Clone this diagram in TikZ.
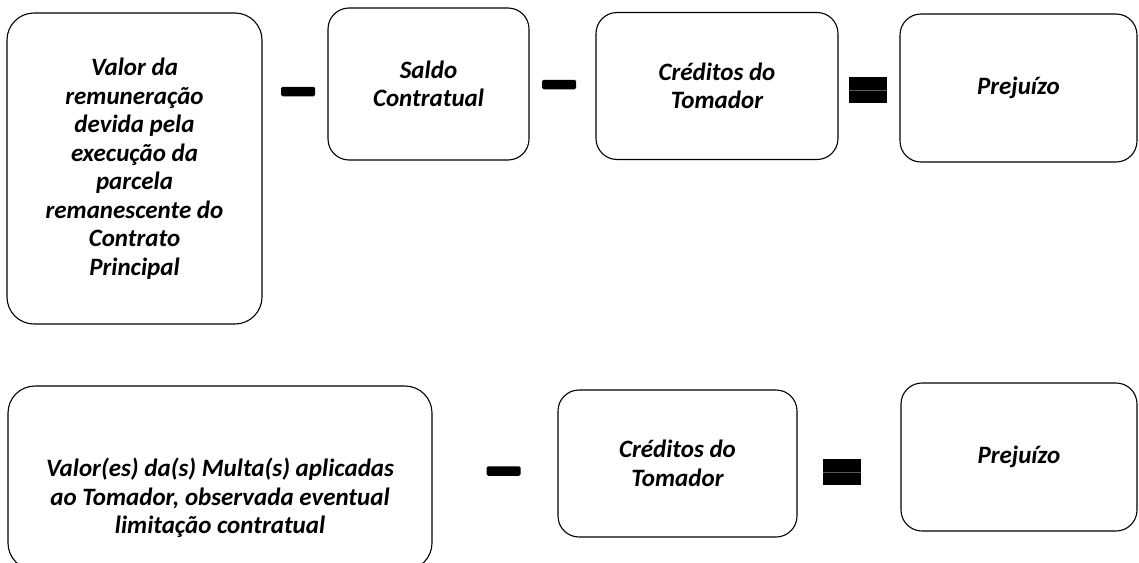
\documentclass[tikz,border=0pt]{standalone}
\usepackage{fontspec}
\setmainfont{Carlito}
\begin{document}
\begin{tikzpicture}[x=1pt,y=-1pt,
  lbl/.style={align=center, inner sep=0pt, font=\fontsize{25}{28.5}\selectfont\bfseries\itshape},
  box/.style={lbl, draw=black, line width=1.1pt, rounded corners=21pt},
  bigbox/.style={box, rounded corners=27pt},
  minusbar/.style={fill=black, rounded corners=1.5pt, minimum width=34pt, minimum height=9.5pt, inner sep=0pt},
  eqbox/.style={fill=black, minimum width=38pt, minimum height=26pt, inner sep=0pt},
  eqgap/.style={draw=black!65, line width=0.6pt}]
\useasboundingbox (0,0) rectangle (1139,562);
% top row
\node[bigbox, minimum width=255pt, minimum height=311pt] (b1) at (134.5,168.5)
  {Valor da\\remuneração\\devida pela\\execução da\\parcela\\remanescente do\\Contrato\\Principal};
\node[minusbar] (m1) at (298,91.5) {};
\node[box, minimum width=201pt, minimum height=152pt] (b2) at (428.5,84) {Saldo\\Contratual};
\node[minusbar] (m2) at (559,84.5) {};
\node[box, minimum width=242pt, minimum height=147pt] (b3) at (717,86) {Créditos do\\Tomador};
\node[eqbox] (e1) at (868,90) {};
\draw[eqgap] (e1.west) -- (e1.east);
\node[box, minimum width=237pt, minimum height=148pt] (b4) at (1018.5,88) {Prejuízo};
% bottom row
\node[bigbox, minimum width=424pt, minimum height=184pt] (b5) at (220,478) {};
\node[lbl] (t5) at (220,498) {Valor(es) da(s) Multa(s) aplicadas\\ao Tomador, observada eventual\\limitação contratual};
\node[minusbar] (m3) at (503.5,471) {};
\node[box, minimum width=239pt, minimum height=147pt] (b6) at (677.5,463.5) {Créditos do\\Tomador};
\node[eqbox] (e2) at (842,472) {};
\draw[eqgap] (e2.west) -- (e2.east);
\node[box, minimum width=236pt, minimum height=148pt] (b7) at (1019,457) {Prejuízo};
\end{tikzpicture}
\end{document}
